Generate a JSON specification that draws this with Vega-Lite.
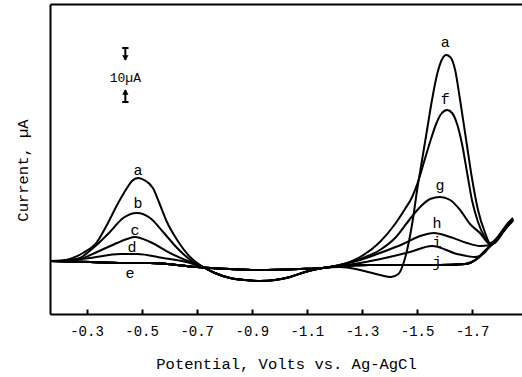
{
"$schema": "https://vega.github.io/schema/vega-lite/v6.json",
"width": 472, "height": 310,
"autosize": {"type": "none"},
"padding": {"left": 50, "top": 4, "right": 0, "bottom": 63},
"background": "white",
"config": {"view": {"stroke": null}, "font": "Liberation Mono"},
"datasets": {
"curves": [
{"c":"a","v":-0.168,"i":51},{"c":"a","v":-0.204,"i":51},{"c":"a","v":-0.240,"i":53},{"c":"a","v":-0.287,"i":59},{"c":"a","v":-0.338,"i":70},{"c":"a","v":-0.374,"i":87},{"c":"a","v":-0.411,"i":107},{"c":"a","v":-0.447,"i":124},{"c":"a","v":-0.465,"i":131},{"c":"a","v":-0.487,"i":134},{"c":"a","v":-0.509,"i":132},{"c":"a","v":-0.541,"i":124},{"c":"a","v":-0.567,"i":107},{"c":"a","v":-0.592,"i":90},{"c":"a","v":-0.629,"i":72},{"c":"a","v":-0.676,"i":55},{"c":"a","v":-0.723,"i":45},
{"c":"a","v":-0.766,"i":39},{"c":"a","v":-0.821,"i":34},{"c":"a","v":-0.875,"i":32},{"c":"a","v":-0.930,"i":31},{"c":"a","v":-0.984,"i":32},{"c":"a","v":-1.039,"i":35},{"c":"a","v":-1.093,"i":40},{"c":"a","v":-1.158,"i":44},
{"c":"a","v":-1.220,"i":45},{"c":"a","v":-1.293,"i":42},{"c":"a","v":-1.365,"i":37},{"c":"a","v":-1.405,"i":35},{"c":"a","v":-1.432,"i":38},{"c":"a","v":-1.452,"i":50},{"c":"a","v":-1.470,"i":70},{"c":"a","v":-1.486,"i":95},{"c":"a","v":-1.500,"i":122},{"c":"a","v":-1.518,"i":152},{"c":"a","v":-1.536,"i":182},{"c":"a","v":-1.554,"i":212},{"c":"a","v":-1.572,"i":237},{"c":"a","v":-1.591,"i":253},{"c":"a","v":-1.605,"i":257},{"c":"a","v":-1.620,"i":255},{"c":"a","v":-1.638,"i":242},{"c":"a","v":-1.656,"i":212},{"c":"a","v":-1.678,"i":172},{"c":"a","v":-1.699,"i":134},{"c":"a","v":-1.721,"i":102},{"c":"a","v":-1.747,"i":79},{"c":"a","v":-1.765,"i":69},{"c":"a","v":-1.786,"i":73},{"c":"a","v":-1.808,"i":81},{"c":"a","v":-1.830,"i":89},{"c":"a","v":-1.848,"i":94},

{"c":"b","v":-0.168,"i":51},{"c":"b","v":-0.204,"i":51},{"c":"b","v":-0.240,"i":52},{"c":"b","v":-0.276,"i":54},{"c":"b","v":-0.324,"i":64},{"c":"b","v":-0.385,"i":80},{"c":"b","v":-0.433,"i":94},{"c":"b","v":-0.483,"i":99},{"c":"b","v":-0.531,"i":94},{"c":"b","v":-0.578,"i":80},{"c":"b","v":-0.629,"i":64},{"c":"b","v":-0.687,"i":50},{"c":"b","v":-0.723,"i":45},
{"c":"b","v":-0.766,"i":39},{"c":"b","v":-0.821,"i":34},{"c":"b","v":-0.875,"i":32},{"c":"b","v":-0.930,"i":31},{"c":"b","v":-0.984,"i":32},{"c":"b","v":-1.039,"i":35},{"c":"b","v":-1.093,"i":40},{"c":"b","v":-1.158,"i":44},
{"c":"b","v":-1.220,"i":46},{"c":"b","v":-1.329,"i":47},{"c":"b","v":-1.438,"i":47},{"c":"b","v":-1.583,"i":47},{"c":"b","v":-1.674,"i":48},{"c":"b","v":-1.721,"i":54},{"c":"b","v":-1.750,"i":62},{"c":"b","v":-1.765,"i":66},{"c":"b","v":-1.786,"i":71},{"c":"b","v":-1.808,"i":79},{"c":"b","v":-1.830,"i":87},{"c":"b","v":-1.848,"i":92},

{"c":"c","v":-0.168,"i":51},{"c":"c","v":-0.204,"i":51},{"c":"c","v":-0.240,"i":52},{"c":"c","v":-0.276,"i":53},{"c":"c","v":-0.338,"i":60},{"c":"c","v":-0.411,"i":69},{"c":"c","v":-0.447,"i":73},{"c":"c","v":-0.476,"i":75},{"c":"c","v":-0.531,"i":70},{"c":"c","v":-0.603,"i":59},{"c":"c","v":-0.676,"i":50},{"c":"c","v":-0.723,"i":45},
{"c":"c","v":-0.766,"i":39},{"c":"c","v":-0.821,"i":34},{"c":"c","v":-0.875,"i":32},{"c":"c","v":-0.930,"i":31},{"c":"c","v":-0.984,"i":32},{"c":"c","v":-1.039,"i":35},{"c":"c","v":-1.093,"i":40},{"c":"c","v":-1.158,"i":44},
{"c":"c","v":-1.220,"i":46},{"c":"c","v":-1.329,"i":47},{"c":"c","v":-1.438,"i":47},{"c":"c","v":-1.583,"i":47},{"c":"c","v":-1.674,"i":48},{"c":"c","v":-1.721,"i":54},{"c":"c","v":-1.750,"i":62},{"c":"c","v":-1.765,"i":66},{"c":"c","v":-1.786,"i":71},{"c":"c","v":-1.808,"i":79},{"c":"c","v":-1.830,"i":87},{"c":"c","v":-1.848,"i":92},

{"c":"d","v":-0.168,"i":51},{"c":"d","v":-0.240,"i":52},{"c":"d","v":-0.313,"i":54},{"c":"d","v":-0.422,"i":58},{"c":"d","v":-0.483,"i":58},{"c":"d","v":-0.578,"i":54},{"c":"d","v":-0.676,"i":49},{"c":"d","v":-0.723,"i":45},
{"c":"d","v":-0.766,"i":39},{"c":"d","v":-0.821,"i":34},{"c":"d","v":-0.875,"i":32},{"c":"d","v":-0.930,"i":31},{"c":"d","v":-0.984,"i":32},{"c":"d","v":-1.039,"i":35},{"c":"d","v":-1.093,"i":40},{"c":"d","v":-1.158,"i":44},
{"c":"d","v":-1.220,"i":46},{"c":"d","v":-1.329,"i":47},{"c":"d","v":-1.438,"i":47},{"c":"d","v":-1.583,"i":47},{"c":"d","v":-1.674,"i":48},{"c":"d","v":-1.721,"i":54},{"c":"d","v":-1.750,"i":62},{"c":"d","v":-1.765,"i":66},{"c":"d","v":-1.786,"i":71},{"c":"d","v":-1.808,"i":79},{"c":"d","v":-1.830,"i":87},{"c":"d","v":-1.848,"i":92},

{"c":"e","v":-0.168,"i":51},{"c":"e","v":-0.313,"i":50},{"c":"e","v":-0.458,"i":49},{"c":"e","v":-0.531,"i":49},{"c":"e","v":-0.701,"i":45},{"c":"e","v":-0.821,"i":43},{"c":"e","v":-0.930,"i":42},{"c":"e","v":-1.075,"i":43},{"c":"e","v":-1.158,"i":44},
{"c":"e","v":-1.220,"i":46},{"c":"e","v":-1.329,"i":47},{"c":"e","v":-1.438,"i":47},{"c":"e","v":-1.583,"i":47},{"c":"e","v":-1.674,"i":48},{"c":"e","v":-1.721,"i":54},{"c":"e","v":-1.750,"i":62},{"c":"e","v":-1.765,"i":66},{"c":"e","v":-1.786,"i":71},{"c":"e","v":-1.808,"i":79},{"c":"e","v":-1.830,"i":87},{"c":"e","v":-1.848,"i":92},

{"c":"f","v":-0.168,"i":51},{"c":"f","v":-0.313,"i":50},{"c":"f","v":-0.458,"i":49},{"c":"f","v":-0.531,"i":49},{"c":"f","v":-0.701,"i":45},{"c":"f","v":-0.821,"i":43},{"c":"f","v":-0.930,"i":42},{"c":"f","v":-1.075,"i":43},{"c":"f","v":-1.158,"i":44},
{"c":"f","v":-1.220,"i":47},{"c":"f","v":-1.293,"i":55},{"c":"f","v":-1.365,"i":70},{"c":"f","v":-1.420,"i":88},{"c":"f","v":-1.456,"i":103},{"c":"f","v":-1.482,"i":115},{"c":"f","v":-1.503,"i":130},{"c":"f","v":-1.525,"i":150},{"c":"f","v":-1.547,"i":170},{"c":"f","v":-1.569,"i":188},{"c":"f","v":-1.587,"i":198},{"c":"f","v":-1.609,"i":202},{"c":"f","v":-1.627,"i":199},{"c":"f","v":-1.645,"i":188},{"c":"f","v":-1.663,"i":168},{"c":"f","v":-1.681,"i":140},{"c":"f","v":-1.699,"i":112},{"c":"f","v":-1.721,"i":90},{"c":"f","v":-1.747,"i":74},{"c":"f","v":-1.765,"i":68},{"c":"f","v":-1.786,"i":72},{"c":"f","v":-1.808,"i":80},{"c":"f","v":-1.830,"i":88},{"c":"f","v":-1.848,"i":93},

{"c":"g","v":-0.168,"i":51},{"c":"g","v":-0.313,"i":50},{"c":"g","v":-0.458,"i":49},{"c":"g","v":-0.531,"i":49},{"c":"g","v":-0.701,"i":45},{"c":"g","v":-0.821,"i":43},{"c":"g","v":-0.930,"i":42},{"c":"g","v":-1.075,"i":43},{"c":"g","v":-1.158,"i":44},
{"c":"g","v":-1.220,"i":47},{"c":"g","v":-1.293,"i":53},{"c":"g","v":-1.365,"i":62},{"c":"g","v":-1.420,"i":74},{"c":"g","v":-1.474,"i":93},{"c":"g","v":-1.511,"i":105},{"c":"g","v":-1.547,"i":113},{"c":"g","v":-1.583,"i":115},{"c":"g","v":-1.620,"i":112},{"c":"g","v":-1.656,"i":102},{"c":"g","v":-1.692,"i":88},{"c":"g","v":-1.728,"i":79},{"c":"g","v":-1.765,"i":68},{"c":"g","v":-1.786,"i":72},{"c":"g","v":-1.808,"i":80},{"c":"g","v":-1.830,"i":88},{"c":"g","v":-1.848,"i":93},

{"c":"h","v":-0.168,"i":51},{"c":"h","v":-0.313,"i":50},{"c":"h","v":-0.458,"i":49},{"c":"h","v":-0.531,"i":49},{"c":"h","v":-0.701,"i":45},{"c":"h","v":-0.821,"i":43},{"c":"h","v":-0.930,"i":42},{"c":"h","v":-1.075,"i":43},{"c":"h","v":-1.158,"i":44},
{"c":"h","v":-1.220,"i":47},{"c":"h","v":-1.293,"i":52},{"c":"h","v":-1.365,"i":59},{"c":"h","v":-1.449,"i":68},{"c":"h","v":-1.511,"i":76},{"c":"h","v":-1.561,"i":79},{"c":"h","v":-1.620,"i":75},{"c":"h","v":-1.681,"i":69},{"c":"h","v":-1.728,"i":66},{"c":"h","v":-1.765,"i":67},{"c":"h","v":-1.786,"i":71},{"c":"h","v":-1.808,"i":79},{"c":"h","v":-1.830,"i":87},{"c":"h","v":-1.848,"i":92},

{"c":"i","v":-0.168,"i":51},{"c":"i","v":-0.313,"i":50},{"c":"i","v":-0.458,"i":49},{"c":"i","v":-0.531,"i":49},{"c":"i","v":-0.701,"i":45},{"c":"i","v":-0.821,"i":43},{"c":"i","v":-0.930,"i":42},{"c":"i","v":-1.075,"i":43},{"c":"i","v":-1.158,"i":44},
{"c":"i","v":-1.220,"i":46},{"c":"i","v":-1.293,"i":49},{"c":"i","v":-1.384,"i":54},{"c":"i","v":-1.474,"i":60},{"c":"i","v":-1.554,"i":66},{"c":"i","v":-1.645,"i":58},{"c":"i","v":-1.710,"i":55},{"c":"i","v":-1.747,"i":60},{"c":"i","v":-1.765,"i":66},{"c":"i","v":-1.786,"i":70},{"c":"i","v":-1.808,"i":78},{"c":"i","v":-1.830,"i":86},{"c":"i","v":-1.848,"i":91},

{"c":"j","v":-0.168,"i":51},{"c":"j","v":-0.313,"i":50},{"c":"j","v":-0.458,"i":49},{"c":"j","v":-0.531,"i":49},{"c":"j","v":-0.701,"i":45},{"c":"j","v":-0.821,"i":43},{"c":"j","v":-0.930,"i":42},{"c":"j","v":-1.075,"i":43},{"c":"j","v":-1.158,"i":44},
{"c":"j","v":-1.220,"i":46},{"c":"j","v":-1.329,"i":47},{"c":"j","v":-1.438,"i":47},{"c":"j","v":-1.583,"i":47},{"c":"j","v":-1.674,"i":48},{"c":"j","v":-1.721,"i":54},{"c":"j","v":-1.750,"i":62},{"c":"j","v":-1.765,"i":66},{"c":"j","v":-1.786,"i":71},{"c":"j","v":-1.808,"i":79},{"c":"j","v":-1.830,"i":87},{"c":"j","v":-1.848,"i":92}
],
"labels": [
{"t":"a","v":-0.487,"i":142},{"t":"b","v":-0.487,"i":109},{"t":"c","v":-0.476,"i":82},{"t":"d","v":-0.465,"i":65},{"t":"e","v":-0.458,"i":39},
{"t":"a","v":-1.602,"i":270},{"t":"f","v":-1.602,"i":213},{"t":"g","v":-1.583,"i":127},{"t":"h","v":-1.572,"i":89},{"t":"i","v":-1.572,"i":70},{"t":"j","v":-1.572,"i":50}
],
"barText": [{"t":"10µA","v":-0.441,"i":234}],
"barRules": [{"v":-0.441,"i1":264,"i2":252},{"v":-0.441,"i1":222,"i2":210}],
"barHeads": [{"v":-0.441,"i":254,"s":"triangle-down"},{"v":-0.441,"i":220,"s":"triangle-up"}],
"barCaps": [{"v":-0.441,"i":264},{"v":-0.441,"i":210}]
},
"layer": [
{
"data": {"name": "curves"},
"mark": {"type": "line", "color": "black", "strokeWidth": 2, "interpolate": "monotone"},
"encoding": {
"x": {"field": "v", "type": "quantitative",
"scale": {"domain": [-1.8807, -0.1675], "reverse": true, "nice": false, "zero": false},
"axis": {"orient": "bottom", "values": [-0.3,-0.5,-0.7,-0.9,-1.1,-1.3,-1.5,-1.7],
"labelExpr": "'-' + format(abs(datum.value), '.1f')",
"grid": false, "domainColor": "black", "domainWidth": 2,
"tickColor": "black", "tickWidth": 2, "tickSize": -5,
"labelFont": "Liberation Mono", "labelFontSize": 14, "labelColor": "black", "labelPadding": 15,
"title": "Potential, Volts vs. Ag-AgCl", "titleFont": "Liberation Mono", "titleFontSize": 15.5,
"titleFontWeight": "normal", "titleColor": "black", "titlePadding": 18}},
"y": {"field": "i", "type": "quantitative",
"scale": {"domain": [-2, 308], "nice": false, "zero": false},
"axis": {"grid": false, "ticks": false, "labels": false, "domainColor": "black", "domainWidth": 2,
"title": "Current, µA", "titleFont": "Liberation Mono", "titleFontSize": 15.5, "titleFontWeight": "normal",
"titleColor": "black", "titleAngle": 270, "titleX": -28, "titleY": 166, "titleAlign": "center", "titleBaseline": "middle"}},
"detail": {"field": "c", "type": "nominal"}
}
},
{
"data": {"name": "labels"},
"mark": {"type": "text", "font": "Liberation Mono", "fontSize": 15, "color": "black", "align": "center", "baseline": "middle"},
"encoding": {
"x": {"field": "v", "type": "quantitative",
"axis": {"orient": "top", "labels": false, "ticks": false, "title": null, "grid": false, "domainColor": "black", "domainWidth": 2}},
"y": {"field": "i", "type": "quantitative"},
"text": {"field": "t"}
}
},
{
"data": {"name": "barText"},
"mark": {"type": "text", "font": "Liberation Mono", "fontSize": 13, "color": "black", "align": "center", "baseline": "middle"},
"encoding": {
"x": {"field": "v", "type": "quantitative", "axis": null},
"y": {"field": "i", "type": "quantitative"},
"text": {"field": "t"}
}
},
{
"data": {"name": "barRules"},
"mark": {"type": "rule", "color": "black", "strokeWidth": 2},
"encoding": {
"x": {"field": "v", "type": "quantitative", "axis": null},
"y": {"field": "i1", "type": "quantitative"},
"y2": {"field": "i2"}
}
},
{
"data": {"name": "barHeads"},
"mark": {"type": "point", "filled": true, "color": "black", "size": 40, "opacity": 1},
"encoding": {
"x": {"field": "v", "type": "quantitative", "axis": null},
"y": {"field": "i", "type": "quantitative"},
"shape": {"field": "s", "type": "nominal", "scale": null, "legend": null}
}
},
{
"data": {"name": "barCaps"},
"mark": {"type": "point", "shape": "stroke", "filled": false, "color": "black", "size": 40, "strokeWidth": 2, "opacity": 1},
"encoding": {
"x": {"field": "v", "type": "quantitative", "axis": null},
"y": {"field": "i", "type": "quantitative"}
}
}
],
"resolve": {"axis": {"x": "independent"}}
}
